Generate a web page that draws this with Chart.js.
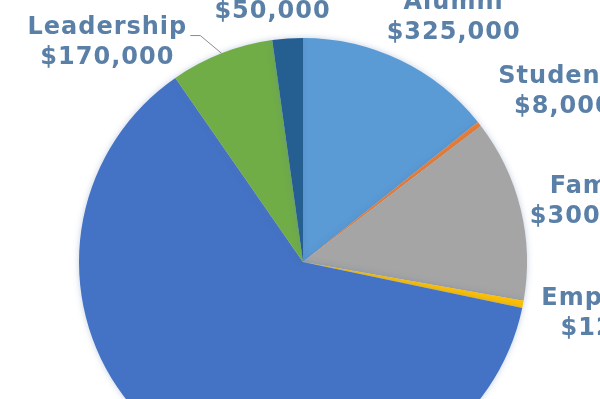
<!DOCTYPE html>
<html>
<head>
<meta charset="utf-8">
<script src="https://cdn.jsdelivr.net/npm/chart.js@4.4.1/dist/chart.umd.min.js"></script>
<style>
  html, body { margin: 0; padding: 0; background: #fff; overflow: hidden; }
  #wrap { position: absolute; left: 0; top: 0; width: 600px; height: 524px; }
</style>
</head>
<body>
<div id="wrap"><canvas id="donorChart"></canvas></div>
<script>
// Donations by source (clockwise from 12 o'clock)
const sources = ['Alumni', 'Students', 'Family', 'Employees', 'Friends', 'Leadership', 'Corporations'];
const amounts = [325000, 8000, 300000, 12000, 1415000, 170000, 50000];
const sliceColors = ['#5B9BD5', '#ED7D31', '#A5A5A5', '#FFC000', '#4472C4', '#70AD47', '#255E91'];

// label placement: angle shift (deg) and distance beyond the rim (px)
const labelShift = [6, 4.9, 2.1, -1.5, 0, -20.4, -2.6];
const labelGap = [63, 87, 76, 96, 70, 70, 43];
const withLeader = ['Leadership'];

const money = v => '$' + v.toLocaleString('en-US');

// soft glow around the pie, like the original
const pieGlow = {
    id: 'pieGlow',
    beforeDatasetsDraw(chart) {
        const ctx = chart.ctx;
        ctx.save();
        ctx.shadowColor = 'rgba(90,120,170,0.35)';
        ctx.shadowBlur = 6;
    },
    afterDatasetsDraw(chart) {
        chart.ctx.restore();
    }
};

const outsideLabels = {
    id: 'outsideLabels',
    afterDraw(chart) {
        const ctx = chart.ctx;
        const meta = chart.getDatasetMeta(0);
        ctx.save();
        ctx.font = 'bold 24px "DejaVu Sans", Verdana, sans-serif';
        ctx.letterSpacing = '1px';
        ctx.fillStyle = '#5A80A8';
        ctx.textAlign = 'center';
        ctx.textBaseline = 'middle';
        meta.data.forEach((arc, i) => {
            const p = arc.getProps(['x', 'y', 'startAngle', 'endAngle', 'outerRadius'], true);
            const mid = (p.startAngle + p.endAngle) / 2;
            const a = mid + labelShift[i] * Math.PI / 180;
            const d = p.outerRadius + labelGap[i];
            const lx = p.x + Math.cos(a) * d;
            const ly = p.y + Math.sin(a) * d;
            const l1 = sources[i], l2 = money(amounts[i]);
            ctx.fillText(l1, lx, ly - 15);
            ctx.fillText(l2, lx, ly + 15);
            if (withLeader.includes(l1)) {
                const right = lx + ctx.measureText(l1).width / 2 + 3;
                const yy = ly - 7;
                ctx.beginPath();
                ctx.strokeStyle = '#8C8C8C';
                ctx.lineWidth = 1;
                ctx.moveTo(right, yy);
                ctx.lineTo(right + 10, yy);
                ctx.lineTo(p.x + Math.cos(mid) * p.outerRadius, p.y + Math.sin(mid) * p.outerRadius);
                ctx.stroke();
            }
        });
        ctx.restore();
    }
};

new Chart(document.getElementById('donorChart'), {
    type: 'pie',
    data: {
        labels: sources,
        datasets: [{
            data: amounts,
            backgroundColor: sliceColors,
            borderWidth: 0,
            radius: 224
        }]
    },
    options: {
        responsive: true,
        maintainAspectRatio: false,
        animation: false,
        layout: { padding: { left: 6 } },
        plugins: {
            legend: { display: false },
            tooltip: { enabled: false }
        }
    },
    plugins: [pieGlow, outsideLabels]
});
</script>
</body>
</html>
